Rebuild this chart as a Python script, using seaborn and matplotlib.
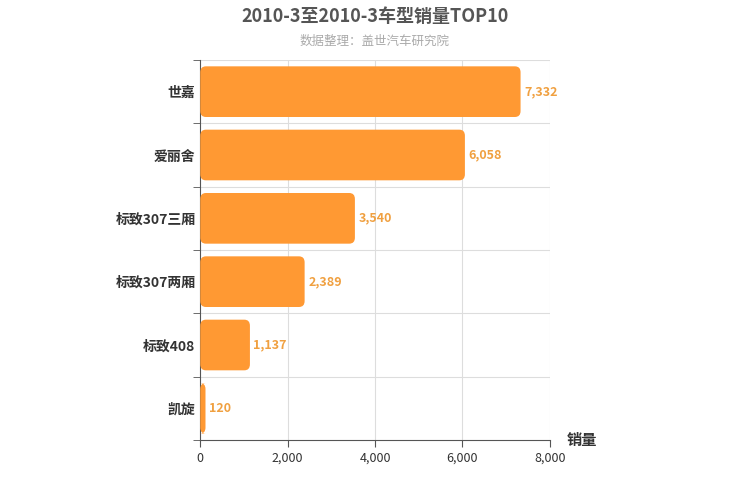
import matplotlib
matplotlib.use("Agg")
import matplotlib.pyplot as plt
import seaborn as sns
import pandas as pd
from matplotlib.patches import FancyBboxPatch

categories = ["世嘉", "爱丽舍", "标致307三厢", "标致307两厢", "标致408", "凯旋"]
sales = [7332, 6058, 3540, 2389, 1137, 120]
xticks = [0, 2000, 4000, 6000, 8000]

plt.rcParams["font.family"] = "Noto Sans CJK SC"
df = pd.DataFrame({"car": categories, "sales": sales})

fig = plt.figure(figsize=(7.5, 5), dpi=100)
ax = fig.add_axes([0.267, 0.12, 0.466, 0.76])
sns.barplot(data=df, y="car", x="sales", orient="h", color="#ff9933", width=0.8, ax=ax)

color = "#ff9933"
for p in list(ax.patches):
    x, y, w, h = p.get_x(), p.get_y(), p.get_width(), p.get_height()
    p.remove()
    fb = FancyBboxPatch((x, y), w, h, boxstyle="round,pad=0,rounding_size=130",
                        mutation_aspect=0.095/130, fc=color, ec="none", zorder=3)
    ax.add_patch(fb)

for i, v in enumerate(sales):
    ax.text(v + 80, i, f"{v:,}", va="center", ha="left", color="#f0a040",
            fontsize=9, fontweight="bold")

ax.set_xlim(0, 8000)
ax.set_ylim(5.5, -0.5)
ax.set_xticks(xticks)
ax.set_xticklabels([f"{t:,}" for t in xticks], fontsize=9, color="#333")
ax.set_yticks(range(len(categories)))
ax.set_yticklabels(categories, fontsize=10, fontweight="bold", color="#333")
ax.set_yticks([i + 0.5 for i in range(-1, 6)], minor=True)
ax.grid(False)
for t in xticks[1:]:
    ax.axvline(t, color="#dddddd", lw=0.8, zorder=0)
for yy in [i + 0.5 for i in range(0, 5)] + [-0.5]:
    ax.axhline(yy, color="#dddddd", lw=0.8, zorder=0)
ax.tick_params(axis="y", which="major", length=0)
ax.tick_params(axis="y", which="minor", length=5, color="#555")
ax.tick_params(axis="x", length=5, color="#555")
for s in ["top", "right"]:
    ax.spines[s].set_visible(False)
for s in ["left", "bottom"]:
    ax.spines[s].set_color("#555")
ax.set_xlabel("")
ax.set_ylabel("")
fig.text(0.755, 0.11, "销量", fontsize=11, fontweight="bold", color="#333", ha="left")

fig.text(0.5, 0.955, "2010-3至2010-3车型销量TOP10", ha="center", fontsize=13,
         fontweight="bold", color="#555")
fig.text(0.5, 0.91, "数据整理：盖世汽车研究院", ha="center", fontsize=9, color="#aaaaaa")

fig.savefig("out.png", dpi=100)
